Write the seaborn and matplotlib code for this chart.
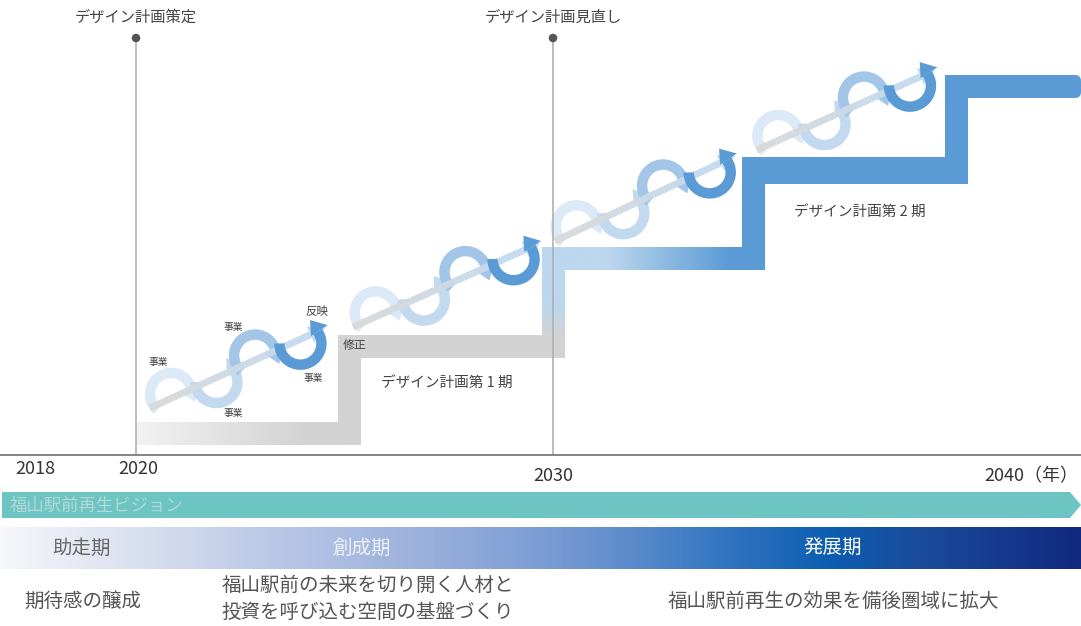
import numpy as np
import matplotlib
matplotlib.use("Agg")
import matplotlib.pyplot as plt
import seaborn as sns
from matplotlib.colors import LinearSegmentedColormap
from matplotlib.patches import Rectangle, Polygon, FancyBboxPatch
from matplotlib.collections import LineCollection

sns.set_theme(style="white")
plt.rcParams["font.family"] = ["Noto Sans CJK JP", "DejaVu Sans"]

W, H = 1081, 626
TXT = "#444444"

# milestones on the timeline (pixel positions of the years)
MILESTONE_X = [136, 553]
MILESTONE_LABELS = ["デザイン計画策定", "デザイン計画見直し"]
MILESTONE_TOP = 38
BASE_Y = 455

YEAR_LABELS = ["2018", "2020", "2030", "2040（年）"]
YEAR_X = [35, 138, 553, 1031]
YEAR_Y = [469, 469, 476, 476]

# staircase: risers and treads
STEP_LEFT = 137
STEP_RISER_X = [338, 542, 742, 945]
STEP_TREAD_Y = [422, 335, 247, 157, 75]
STEP_W = 23

# PDCA style cycle arrows
CYCLE_START = [(150, 408), (353, 327), (555, 241), (757, 150)]
CYCLE_TIP = [(325, 328), (540, 243), (735, 156), (935, 70)]
LOOP_POS = [0.13, 0.37, 0.61, 0.85]
LOOP_SIDE = [1, -1, 1, -1]
LOOP_COLORS = ["#dce9f6", "#c2d9ef", "#a2c5e8", "#5b9bd5"]

NOTES = ["事業", "事業", "事業", "事業", "反映", "修正"]
NOTE_XY = [(158, 362), (233, 327), (233, 413), (313, 378), (317, 312), (355, 346)]
NOTE_SIZE = [7, 7, 7, 7, 8.3, 8.6]

PHASES = ["デザイン計画第 1 期", "デザイン計画第 2 期"]
PHASE_XY = [(447, 383), (860, 212)]

VISION = "福山駅前再生ビジョン"
STAGES = ["助走期", "創成期", "発展期"]
STAGE_X = [82, 362, 833]
STAGE_COLORS = ["#666666", "#eef1f8", "#ffffff"]
GOALS = ["期待感の醸成",
         "福山駅前の未来を切り開く人材と\n投資を呼び込む空間の基盤づくり",
         "福山駅前再生の効果を備後圏域に拡大"]
GOAL_X = [83, 368, 833]


def gradient_rect(ax, x0, x1, y0, y1, stops, colors, vertical=False, z=2):
    cmap = LinearSegmentedColormap.from_list("g", list(zip(stops, colors)))
    g = np.linspace(0, 1, 256)
    img = g[:, None] if vertical else g[None, :]
    ax.imshow(img, cmap=cmap, extent=(x0, x1, y1, y0), aspect="auto",
              interpolation="bilinear", zorder=z)


def draw_cycle(ax, start, tip):
    s = np.array(start, float)
    t = np.array(tip, float)
    d = t - s
    L = np.hypot(*d)
    u = d / L
    n = np.array([u[1], -u[0]])  # visually "up"
    r, off = 21, 4
    for i, (pos, side, col) in enumerate(zip(LOOP_POS, LOOP_SIDE, LOOP_COLORS)):
        c = s + pos * L * u + side * off * n
        if side > 0:
            th = np.radians(np.linspace(205, -10, 80))
        else:
            th = np.radians(np.linspace(155, 370, 80))
        pts = c + r * (np.cos(th)[:, None] * u + np.sin(th)[:, None] * n)
        z = 5 if i == 3 else 3
        ax.plot(pts[:, 0], pts[:, 1], color=col, lw=7.5,
                solid_capstyle="butt", zorder=z)
        e = pts[-1]
        tg = pts[-1] - pts[-2]
        tg /= np.hypot(*tg)
        w = np.array([-tg[1], tg[0]])
        ax.add_patch(Polygon([e + 12 * w, e - 8 * w, e + 14 * tg],
                             closed=True, color=col, lw=0, zorder=z))
    # gradient shaft grey -> light blue
    shaft_end = t - 16 * u
    k = np.linspace(0, 1, 60)
    pts = s + k[:, None] * (shaft_end - s)
    segs = np.stack([pts[:-1], pts[1:]], axis=1)
    cmap = LinearSegmentedColormap.from_list("s", ["#d9d9d9", "#c2daf0"])
    lc = LineCollection(segs, colors=cmap(k[:-1]), linewidths=5,
                        capstyle="butt", zorder=4)
    ax.add_collection(lc)
    w = np.array([-u[1], u[0]])
    ax.add_patch(Polygon([t, shaft_end + 9 * w, shaft_end - 9 * w],
                         closed=True, color="#c2daf0", lw=0, zorder=4))


fig = plt.figure(figsize=(10.81, 6.26), dpi=100)
ax = fig.add_axes([0, 0, 1, 1])

# ---- staircase ----
GRAY = "#d3d3d3"
BLUE = "#5b9bd5"
LIGHT = "#bdd7ee"
t0, t1, t2, t3, t4 = STEP_TREAD_Y
r0, r1, r2, r3 = STEP_RISER_X
gradient_rect(ax, STEP_LEFT, r0 + STEP_W, t0, t0 + STEP_W,
              [0, 0.75, 1], ["#f2f2f2", GRAY, GRAY])
ax.add_patch(Rectangle((r0, t1), STEP_W, t0 - t1 + STEP_W, color=GRAY, lw=0, zorder=2))
gradient_rect(ax, r1, r1 + STEP_W, t2, t1 + STEP_W,
              [0, 0.55, 0.8, 1], [LIGHT, LIGHT, GRAY, GRAY], vertical=True)
ax.add_patch(Rectangle((r0, t1), r1 + STEP_W - r0, STEP_W, color=GRAY, lw=0, zorder=2))
gradient_rect(ax, r1, r2 + STEP_W, t2, t2 + STEP_W,
              [0, 0.29, 0.84, 1], [LIGHT, LIGHT, BLUE, BLUE])
ax.add_patch(Rectangle((r2, t3), STEP_W, t2 - t3 + STEP_W, color=BLUE, lw=0, zorder=2))
ax.add_patch(Rectangle((r2, t3), r3 + STEP_W - r2, STEP_W + 4, color=BLUE, lw=0, zorder=2))
ax.add_patch(Rectangle((r3, t4), STEP_W, t3 - t4 + STEP_W + 4, color=BLUE, lw=0, zorder=2))
ax.add_patch(Rectangle((r3, t4), 60, STEP_W, color=BLUE, lw=0, zorder=2))
ax.add_patch(FancyBboxPatch((r3 + 20, t4), W - r3 - 20, STEP_W,
                            boxstyle="round,pad=0,rounding_size=6",
                            color=BLUE, lw=0, zorder=2))

# ---- cycle arrows ----
for st, tp in zip(CYCLE_START, CYCLE_TIP):
    draw_cycle(ax, st, tp)

for txt, (x, y), fs in zip(NOTES, NOTE_XY, NOTE_SIZE):
    ax.text(x, y, txt, fontsize=fs, color=TXT, ha="center", va="center", zorder=6)
for txt, (x, y) in zip(PHASES, PHASE_XY):
    ax.text(x, y, txt, fontsize=10.5, color=TXT, ha="center", va="center", zorder=6)

# ---- milestones ----
ax.vlines(MILESTONE_X, MILESTONE_TOP, BASE_Y, color="#b0b0b0", lw=1.2, zorder=5)
sns.scatterplot(x=MILESTONE_X, y=[MILESTONE_TOP] * len(MILESTONE_X), ax=ax,
                color="#555555", s=38, edgecolor="none", zorder=6, legend=False)
for x, lab in zip(MILESTONE_X, MILESTONE_LABELS):
    ax.text(x, 17, lab, fontsize=11, color=TXT, ha="center", va="center")

ax.hlines(BASE_Y, 0, W, color="#707070", lw=1.2, zorder=5)
for lab, x, y in zip(YEAR_LABELS, YEAR_X, YEAR_Y):
    ax.text(x, y, lab, fontsize=13, color="#333333", ha="center", va="center")

# ---- vision band ----
ax.add_patch(Polygon([(2, 492), (1070, 492), (W, 505), (1070, 518), (2, 518)],
                     closed=True, color="#6cc4c3", lw=0, zorder=2))
ax.text(10, 506, VISION, fontsize=12.5, color="#b2d9d7", ha="left", va="center", zorder=3)

# ---- stage band ----
gradient_rect(ax, 0, W, 527, 569,
              [0, 0.1, 0.25, 0.4, 0.5, 0.58, 0.68, 0.77, 0.85, 1],
              ["#f5f6fa", "#dfe4f1", "#bac8e6", "#98aedb", "#7c9dd4",
               "#5d8ccc", "#2f73c0", "#0b5eb0", "#1b4c9c", "#112a80"])
for lab, x, c in zip(STAGES, STAGE_X, STAGE_COLORS):
    ax.text(x, 548, lab, fontsize=14, color=c, ha="center", va="center", zorder=3)

for goal, x in zip(GOALS, GOAL_X):
    lines = goal.split("\n")
    ys = [601] if len(lines) == 1 else [585, 612]
    for line, y in zip(lines, ys):
        ax.text(x, y, line, fontsize=14, color="#555555", ha="center", va="center")

ax.set_xlim(0, W)
ax.set_ylim(H, 0)
ax.axis("off")
fig.savefig("out.png", dpi=100, facecolor="white")
